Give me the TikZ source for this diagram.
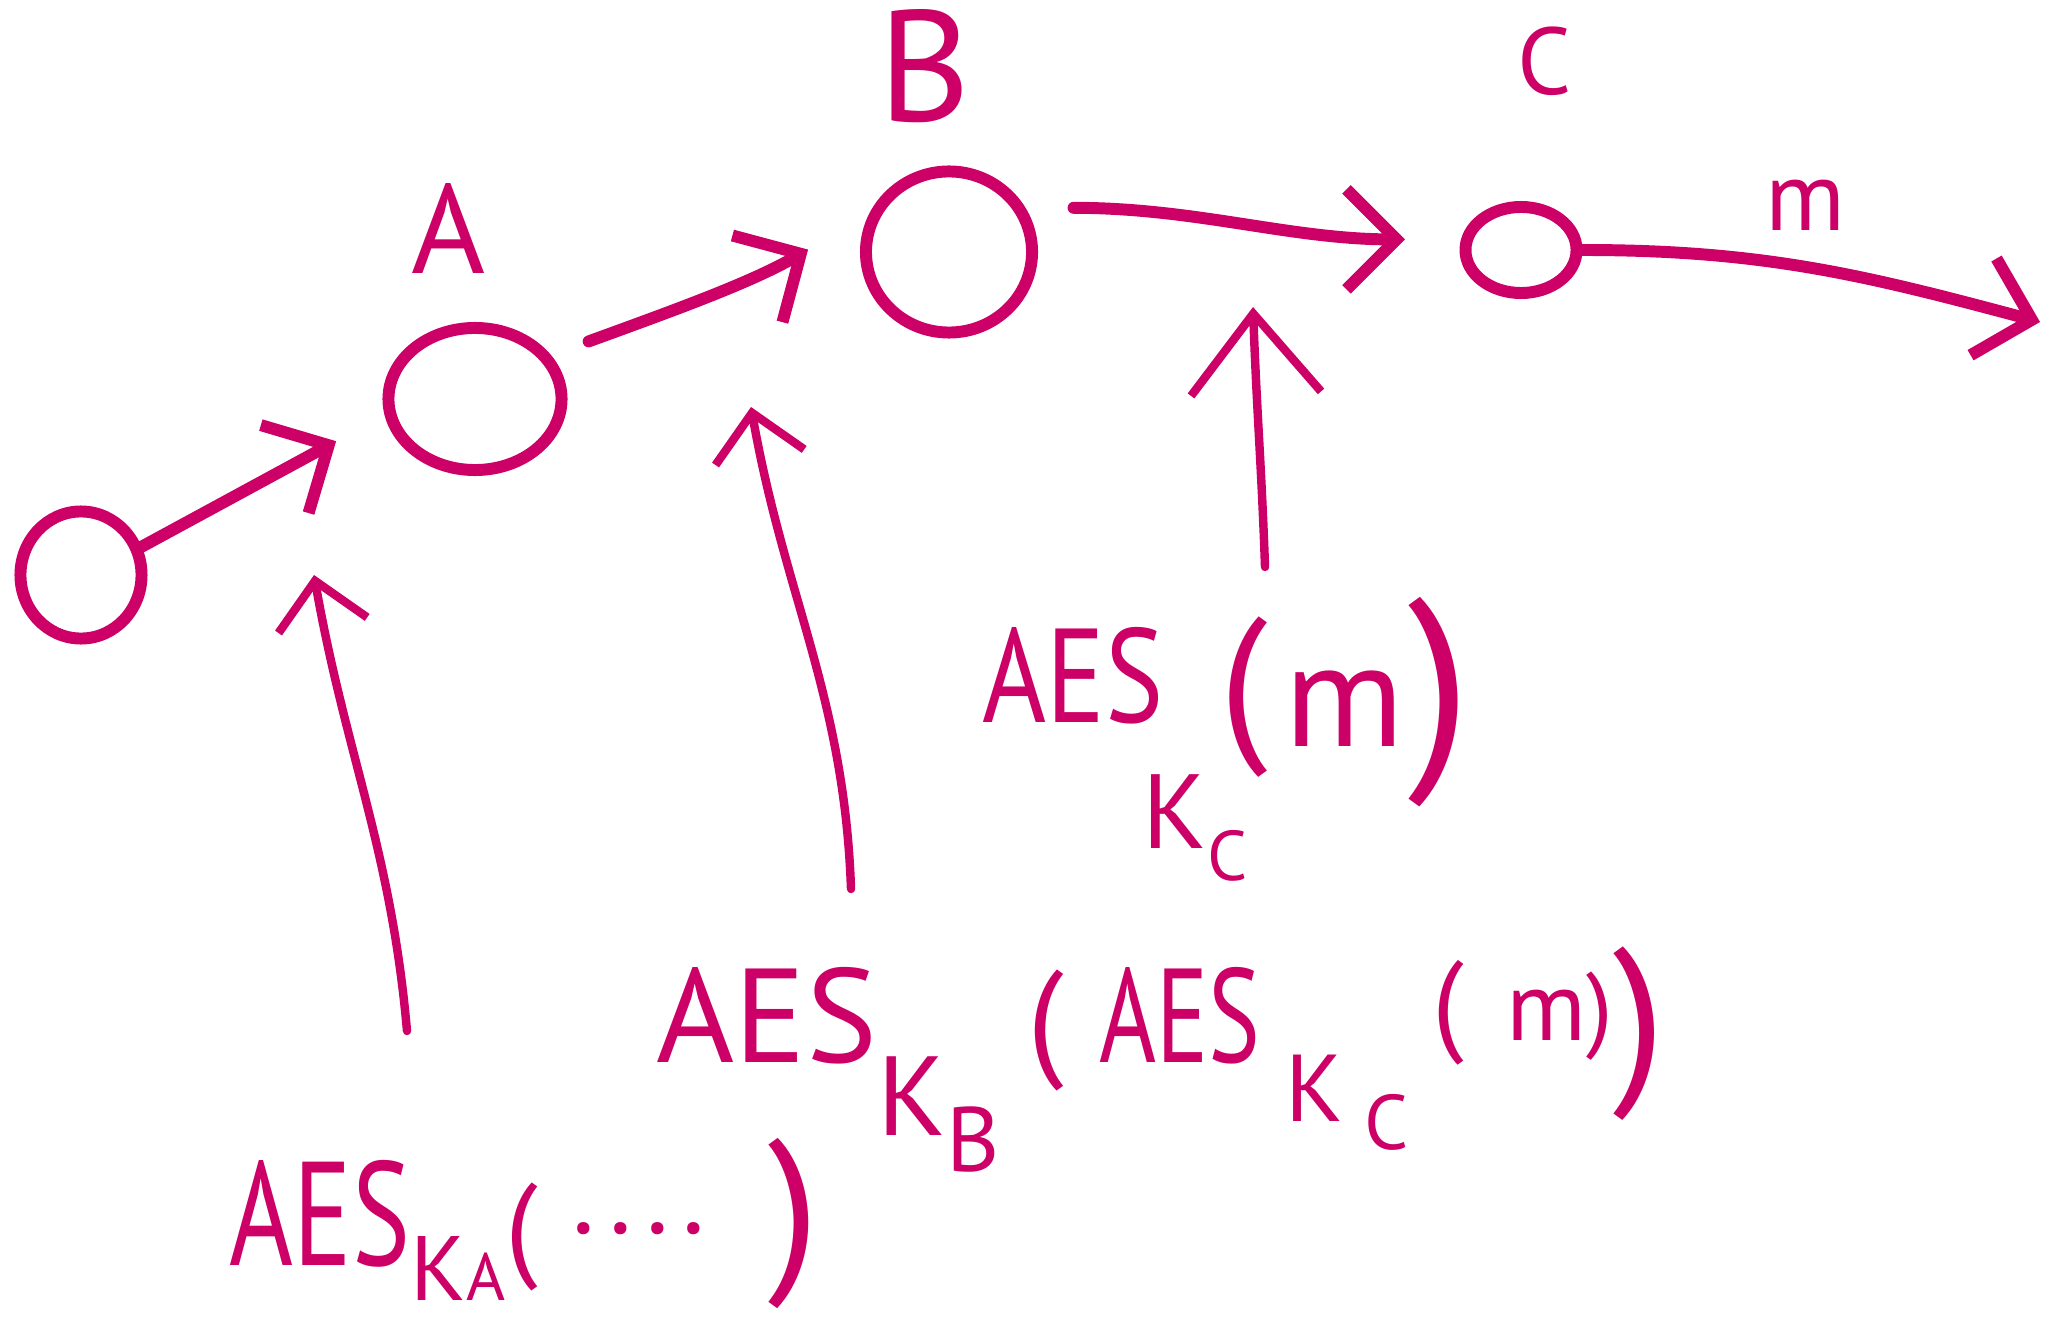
\documentclass[tikz,border=0pt]{standalone}
\usepackage{fontspec}
\setmainfont{PT Sans}
\usetikzlibrary{arrows.meta,shapes.geometric}
\definecolor{ink}{RGB}{204,0,102}
\newcommand{\aes}[1]{\scalebox{#1}[1]{AES}}
\newcommand{\sz}[3]{\raisebox{#2}{\fontsize{#1}{#1}\selectfont #3}}
\begin{document}
\begin{tikzpicture}[x=0.01cm,y=0.01cm,
    ring/.style={ellipse, draw=ink, line width=3.4pt, inner sep=0pt},
    lbl/.style={text=ink, inner sep=0pt},
    edge/.style={draw=ink, line width=3.4pt, line cap=round,
      -{Straight Barb[length=5mm,width=10mm]}},
    hint/.style={draw=ink, line width=2.4pt, line cap=round,
      -{Straight Barb[length=4.5mm,width=9mm]}}]
  \useasboundingbox (0,0) rectangle (2046,-1322);
  \draw
    (81,-575) node[ring, minimum width=1.21cm, minimum height=1.27cm] (s){}
    (475,-399) node[ring, minimum width=1.73cm, minimum height=1.42cm] (a){}
    (949,-252) node[ring, minimum width=1.66cm, minimum height=1.61cm] (b){}
    (1521,-250) node[ring, minimum width=1.11cm, minimum height=0.86cm] (c){}
    (449,-228) node[lbl, font=\fontsize{36}{36}\selectfont] (la){A}
    (925,-66) node[lbl, font=\fontsize{45}{45}\selectfont] (lb){B}
    (1545,-61) node[lbl, font=\fontsize{27}{27}\selectfont] (lc){C}
    (1805,-205) node[lbl, font=\fontsize{28}{28}\selectfont] (lm){m};
  \node[lbl, anchor=base west, font=\fontsize{38}{38}\selectfont] (l1) at (982,-722)
    {\aes{0.82}\kern-6pt\sz{30}{-36pt}{K\sz{20}{-9pt}{C}}\kern-8pt\sz{49}{-5pt}{(}\kern5pt\sz{42}{-7pt}{m}\kern1pt\sz{64}{-10pt}{)}};
  \node[lbl, anchor=base west, font=\fontsize{38}{38}\selectfont] (l2) at (656,-1062)
    {\aes{1.0}\sz{32}{-21pt}{K\sz{26}{-10pt}{B}}\kern8pt\sz{37}{0pt}{(}\kern10pt\aes{0.73}\kern7pt\sz{27}{-17pt}{K\kern6pt\sz{22}{-8pt}{C}}\kern7pt\sz{32}{6pt}{(}\kern12pt\sz{28}{6pt}{m}\sz{27}{6.5pt}{)}\sz{53}{-5pt}{)}};
  \node[lbl, anchor=base west, font=\fontsize{42}{42}\selectfont] (l3) at (229,-1265)
    {\aes{0.74}\sz{26}{-10pt}{K\sz{19}{0pt}{A}}\sz{33}{0pt}{(}\kern10pt\sz{30}{9pt}{.\kern4pt.\kern4pt.\kern4pt.}\kern18pt\sz{52}{-1pt}{)}};
  \coordinate (ka) at (314,-575);
  \coordinate (kb) at (751,-407);
  \coordinate (kc) at (1253,-307);
  \coordinate (mtip) at (2040,-322);
  \begin{scope}
    \draw[edge, shorten >=0.55cm] (s.25) to (a.190);
    \draw[edge, shorten <=0.4cm, shorten >=0.7cm] (a.30) to[out=20,in=-150] (b.155);
    \draw[edge, shorten <=0.48cm, shorten >=0.56cm] (b.30) to[out=0,in=180] (c.170);
    \draw[edge] (c.east) to[out=0,in=165] (mtip);
    \draw[hint] ([shift={(178,234)}]l3.base west) to[out=95,in=-80] (ka);
    \draw[hint] ([shift={(195,173)}]l2.base west) to[out=92,in=-80] (kb);
    \draw[hint, -{Straight Barb[length=8mm,width=13mm]}] ([shift={(283,155)}]l1.base west) to[out=92,in=-88] (kc);
  \end{scope}
\end{tikzpicture}
\end{document}
